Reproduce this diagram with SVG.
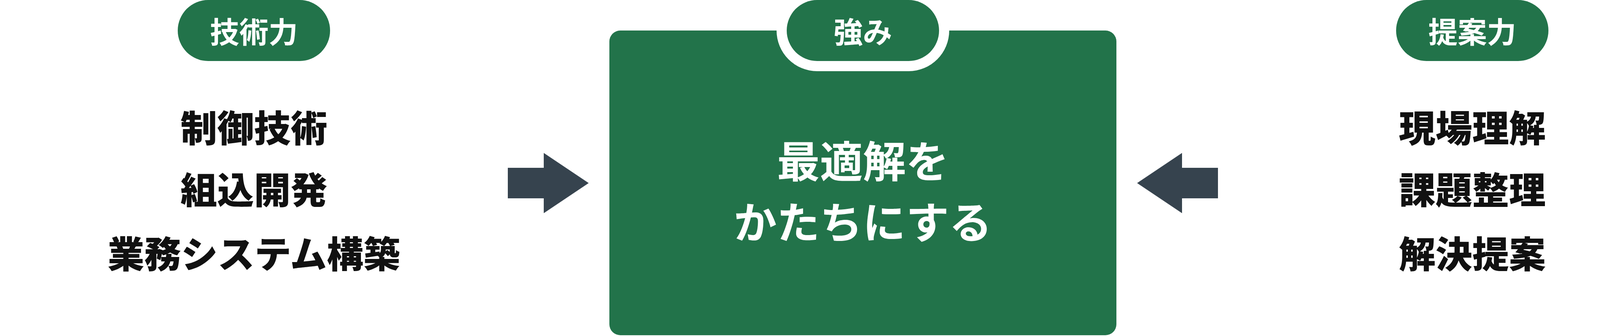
<svg xmlns="http://www.w3.org/2000/svg" width="4418" height="859" viewBox="0 0 4418 859">
  <style>
    .pill { fill: #22734A; }
    .pilltxt { fill: #FFFFFF; font-family: "Noto Sans CJK JP", "Noto Sans", sans-serif; font-weight: 700; font-size: 75px; text-anchor: middle; dominant-baseline: central; }
    .item { fill: #111111; font-family: "Noto Sans CJK JP", "Noto Sans", sans-serif; font-weight: 900; font-size: 94px; text-anchor: middle; dominant-baseline: central; }
    .main { fill: #FFFFFF; font-family: "Noto Sans CJK JP", "Noto Sans", sans-serif; font-weight: 700; font-size: 110px; text-anchor: middle; dominant-baseline: central; }
    .arrow { fill: #36434E; }
  </style>
  <rect width="4418" height="859" fill="#FFFFFF"/>

  <g id="left-column">
    <rect class="pill" x="455" y="0" width="390" height="156" rx="78"/>
    <text class="pilltxt" x="650" y="77">技術力</text>
    <text class="item" x="650" y="322">制御技術</text>
    <text class="item" x="650" y="480">組込開発</text>
    <text class="item" x="650" y="644">業務システム構築</text>
  </g>

  <g id="center-box">
    <rect class="pill" x="1560" y="78" width="1298" height="779" rx="28"/>
    <rect fill="#FFFFFF" x="1988" y="-26" width="442" height="208" rx="104"/>
    <rect class="pill" x="2014" y="0" width="390" height="156" rx="78"/>
    <text class="pilltxt" x="2209" y="77">強み</text>
    <text class="main" x="2209" y="406">最適解を</text>
    <text class="main" x="2209" y="562">かたちにする</text>
  </g>

  <g id="right-column">
    <rect class="pill" x="3574" y="0" width="390" height="156" rx="78"/>
    <text class="pilltxt" x="3769" y="77">提案力</text>
    <text class="item" x="3769" y="322">現場理解</text>
    <text class="item" x="3769" y="480">課題整理</text>
    <text class="item" x="3769" y="644">解決提案</text>
  </g>

  <g id="connectors">
    <polygon class="arrow" points="1300,429 1392,429 1392,391 1507,468 1392,545 1392,507 1300,507"/>
    <polygon class="arrow" points="3118,429 3026,429 3026,391 2911,468 3026,545 3026,507 3118,507"/>
  </g>
</svg>
